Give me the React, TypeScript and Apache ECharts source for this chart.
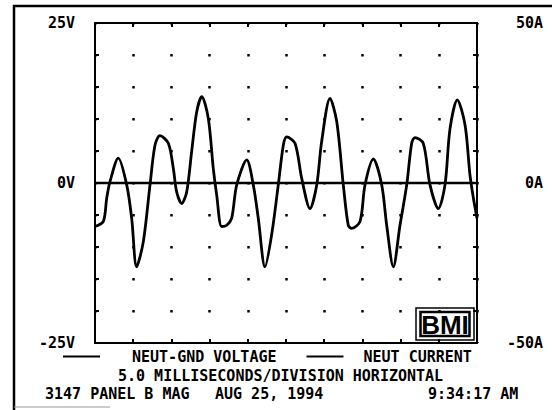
import React, { useEffect, useRef } from "react";
import * as echarts from "echarts";

// time (ms) from left edge of trace, 5 ms per division
const timeMs = [
  0, 1.09, 1.53, 1.96, 3.05, 4.15, 4.8, 5.45, 6.32, 7.2, 7.85, 8.5, 9.6, 10.25, 10.69,
  11.35, 12.0, 12.65, 13.31, 13.97, 14.83, 15.48, 15.93, 16.58, 17.24, 17.89, 18.55,
  19.86, 20.72, 21.37, 22.25, 23.12, 23.99, 24.65, 25.09, 26.18, 27.06, 28.14, 29.02,
  29.67, 30.76, 31.64, 32.5, 33.15, 33.6, 34.69, 35.34, 36.43, 37.53, 38.18, 39.05,
  39.92, 40.8, 41.45, 41.88, 42.97, 43.85, 44.94, 45.81, 46.47, 47.42, 48.43, 49.08,
  49.52, 50,
];
// neutral current (A)
const neutCurrent = [
  -13.6, -12, -4.8, 0.4, 7.8, -0.6, -11, -26.2, -18.4, -0.6, 11.8, 14.8, 12.4, 4.6, -2.8,
  -6.4, -2.8, 9.8, 22.2, 27, 20.2, 4.6, -3.8, -13.6, -13.2, -11, -0.6,
  7.2, -0.6, -11, -26.2, -16.2, -0.6, 11.8, 14.4, 12.4, 1.4, -8, -0.6,
  13, 26.4, 19.2, -0.6, -13.2, -14.2, -12, -0.6, 7.5, -0.6, -13.2, -26.2,
  -13.2, -0.6, 12.4, 14.2, 12.4, -0.6, -8, -0.6, 17, 26, 18.2, 2.5,
  -4.6, -11,
];
// neutral-ground voltage (V)
const ngTime = [0, 50];
const ngVoltage = [0, 0];

const voltLabels: Record<string, string> = { "25": "25V", "0": "0V", "-25": "-25V" };
const ampLabels: Record<string, string> = { "50": "50A", "0": "0A", "-50": "-50A" };

const seriesNames = ["NEUT-GND VOLTAGE", "NEUT CURRENT"];
const scaleText = "5.0 MILLISECONDS/DIVISION HORIZONTAL";
const footerTexts = ["3147 PANEL B MAG", "AUG 25, 1994", "9:34:17 AM"];
const logoText = "BMI";

const FONT = "'DejaVu Sans Mono', monospace";

export default function App() {
  const ref = useRef<HTMLDivElement>(null);
  useEffect(() => {
    if (!ref.current) return;
    const chart = echarts.init(ref.current, null, { renderer: "svg" });
    const txt = { fontFamily: FONT, fontWeight: "bold" as const, fontSize: 15, color: "#000" };
    const xAxisCommon = {
      type: "value" as const,
      min: 0,
      max: 50,
      interval: 5,
      axisLabel: { show: false },
      axisLine: { show: true, onZero: false, lineStyle: { color: "#000", width: 2 } },
      axisTick: { show: true, inside: true, length: 4, lineStyle: { color: "#000", width: 2 } },
    };
    const textEl = (text: string, x: number, y: number) => ({
      type: "text",
      x,
      y,
      style: { text, font: `bold 15px ${FONT}`, fill: "#000", verticalAlign: "middle" },
    });
    chart.setOption({
      animation: false,
      backgroundColor: "#fff",
      grid: { left: 95, top: 23, width: 382, height: 320, containLabel: false },
      legend: {
        data: [
          { name: seriesNames[0], textStyle: { ...txt, padding: [0, 0, 0, 27] } },
          { name: seriesNames[1], textStyle: { ...txt, padding: [0, 0, 0, 15] } },
        ],
        left: 63,
        top: 349,
        padding: 0,
        icon: "rect",
        itemWidth: 37,
        itemHeight: 2,
        itemGap: 30,
        textStyle: txt,
        selectedMode: false,
      },
      xAxis: [
        {
          ...xAxisCommon,
          position: "bottom",
          splitLine: {
            show: true,
            lineStyle: { color: "#000", width: 2.5, type: [2.5, 29.5], dashOffset: 1.25 },
          },
        },
        { ...xAxisCommon, position: "top", splitLine: { show: false } },
      ],
      yAxis: [
        {
          type: "value",
          position: "left",
          min: -25,
          max: 25,
          interval: 5,
          axisLine: { show: true, onZero: false, lineStyle: { color: "#000", width: 2 } },
          axisTick: { show: true, inside: true, length: 4, lineStyle: { color: "#000", width: 2 } },
          splitLine: { show: false },
          axisLabel: {
            ...txt,
            margin: 20,
            formatter: (v: number) => voltLabels[String(v)] ?? "",
          },
        },
        {
          type: "value",
          position: "right",
          min: -50,
          max: 50,
          interval: 10,
          axisLine: { show: true, onZero: false, lineStyle: { color: "#000", width: 2 } },
          axisTick: { show: true, inside: true, length: 4, lineStyle: { color: "#000", width: 2 } },
          splitLine: { show: false },
          axisLabel: {
            ...txt,
            margin: 66,
            align: "right",
            formatter: (v: number) => ampLabels[String(v)] ?? "",
          },
        },
      ],
      series: [
        {
          name: seriesNames[0],
          type: "line",
          xAxisIndex: 0,
          yAxisIndex: 0,
          data: ngTime.map((t, i) => [t, ngVoltage[i]]),
          showSymbol: false,
          symbol: "none",
          color: "#000",
          lineStyle: { color: "#000", width: 2.5 },
          silent: true,
        },
        {
          name: seriesNames[1],
          type: "line",
          xAxisIndex: 0,
          yAxisIndex: 1,
          data: timeMs.map((t, i) => [t, neutCurrent[i]]),
          smooth: 0.3,
          showSymbol: false,
          symbol: "none",
          color: "#000",
          lineStyle: { color: "#000", width: 2.8 },
          silent: true,
        },
      ],
      graphic: [
        { type: "line", shape: { x1: 14, y1: 5, x2: 14, y2: 410 }, style: { stroke: "#000", lineWidth: 2.5 } },
        { type: "line", shape: { x1: 13, y1: 6, x2: 552, y2: 6 }, style: { stroke: "#000", lineWidth: 2.5 } },
        { type: "line", shape: { x1: 14, y1: 407, x2: 110, y2: 407 }, style: { stroke: "#999", lineWidth: 1 } },
        textEl(scaleText, 118, 376),
        textEl(footerTexts[0], 45, 394),
        textEl(footerTexts[1], 215, 394),
        textEl(footerTexts[2], 428, 394),
        {
          type: "group",
          z: 100,
          children: [
            { type: "rect", shape: { x: 416, y: 308, width: 58, height: 32 }, style: { fill: "#fff", stroke: "#000", lineWidth: 1.5 } },
            { type: "rect", shape: { x: 420.5, y: 312, width: 49, height: 24 }, style: { fill: "#fff", stroke: "#000", lineWidth: 2.5 } },
            {
              type: "text",
              x: 445,
              y: 325,
              style: {
                text: logoText,
                font: "bold 26px 'Liberation Sans', sans-serif",
                fill: "#000",
                align: "center",
                verticalAlign: "middle",
              },
            },
          ],
        },
      ],
    });
    return () => chart.dispose();
  }, []);
  return <div ref={ref} style={{ width: 552, height: 410, position: "absolute", left: 0, top: 0 }} />;
}
